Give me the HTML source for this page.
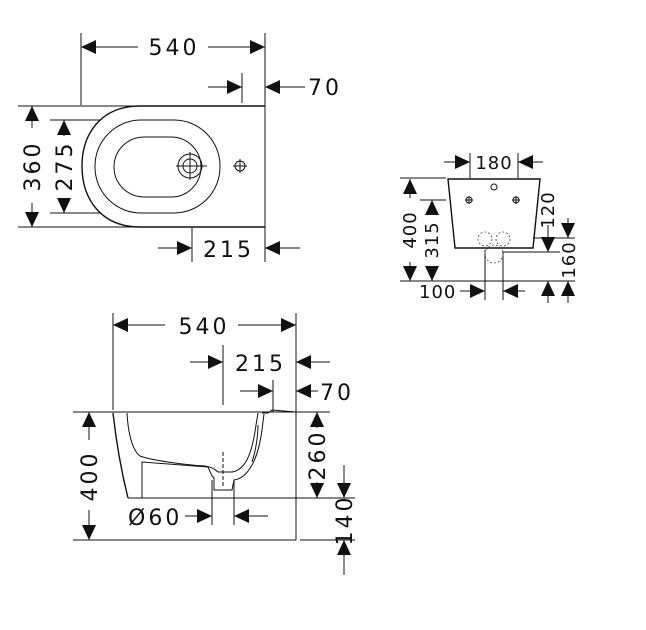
<!DOCTYPE html>
<html><head><meta charset="utf-8"><style>
html,body{margin:0;padding:0;background:#fff;}
svg{display:block;}
text{font-family:"DejaVu Sans","Liberation Sans",sans-serif;font-size:22px;fill:#111;letter-spacing:3px;}
.s{font-size:18px;letter-spacing:1px;}
.t{stroke:#111;stroke-width:1;fill:none;}
.th{stroke:#111;stroke-width:1.4;fill:none;}
.d{stroke:#444;stroke-width:0.8;fill:none;stroke-dasharray:2 2;}
</style></head><body>
<svg width="646" height="630" viewBox="0 0 646 630" xmlns="http://www.w3.org/2000/svg">
<defs>
<marker id="a" markerUnits="userSpaceOnUse" markerWidth="16" markerHeight="14" refX="15" refY="7" orient="auto">
<path d="M0,0 L15,7 L0,14 Z" fill="#111"/></marker>
</defs>

<!-- TOP VIEW -->
<g class="t">
<line x1="81" y1="33" x2="81" y2="105"/>
<line x1="265" y1="33" x2="265" y2="262"/>
<line x1="242" y1="73" x2="242" y2="103"/>
<line x1="18" y1="106" x2="265" y2="106"/>
<line x1="18" y1="227" x2="265" y2="227"/>
<line x1="50" y1="120" x2="100" y2="120"/>
<line x1="50" y1="213" x2="100" y2="213"/>
<line x1="192" y1="228" x2="192" y2="262"/>
<path class="th" d="M265,106 L140,106 C100,106 82,135 82,166 C82,200 102,227 140,227 L265,227"/>
<rect x="95" y="120" width="125" height="93" rx="46" ry="46"/>
<rect x="114" y="137" width="87" height="60" rx="30" ry="30"/>
<circle cx="190" cy="166" r="12"/><circle cx="190" cy="166" r="7"/>
<line x1="176" y1="166" x2="207" y2="166"/><line x1="190" y1="152" x2="190" y2="180"/>
<circle cx="240" cy="166" r="5"/><line x1="233" y1="166" x2="247" y2="166"/><line x1="240" y1="159" x2="240" y2="173"/>
<line x1="138" y1="47" x2="81" y2="47" marker-end="url(#a)"/>
<line x1="208" y1="47" x2="265" y2="47" marker-end="url(#a)"/>
<line x1="208" y1="87" x2="242" y2="87" marker-end="url(#a)"/>
<line x1="305" y1="87" x2="265" y2="87" marker-end="url(#a)"/>
<line x1="32" y1="128" x2="32" y2="106" marker-end="url(#a)"/>
<line x1="32" y1="203" x2="32" y2="227" marker-end="url(#a)"/>
<line x1="64" y1="136" x2="64" y2="120" marker-end="url(#a)"/>
<line x1="64" y1="199" x2="64" y2="213" marker-end="url(#a)"/>
<line x1="158" y1="248" x2="192" y2="248" marker-end="url(#a)"/>
<line x1="300" y1="248" x2="265" y2="248" marker-end="url(#a)"/>
</g>
<text x="174" y="55" text-anchor="middle">540</text>
<text x="308" y="95">70</text>
<text x="203" y="257">215</text>
<text transform="translate(40,166) rotate(-90)" text-anchor="middle">360</text>
<text transform="translate(72,166) rotate(-90)" text-anchor="middle">275</text>

<!-- SIDE VIEW -->
<g class="t">
<line x1="113" y1="313" x2="113" y2="410"/>
<line x1="296" y1="313" x2="296" y2="540"/>
<line x1="223" y1="345" x2="223" y2="405"/>
<line x1="273" y1="380" x2="273" y2="412"/>
<line x1="73" y1="412" x2="330" y2="412"/>
<line x1="128" y1="498" x2="355" y2="498"/>
<line x1="73" y1="540" x2="296" y2="540"/>
<line x1="300" y1="540" x2="355" y2="540"/>
<line x1="212" y1="480" x2="212" y2="525"/>
<line x1="234" y1="480" x2="234" y2="525"/>
<line x1="223" y1="452" x2="223" y2="488" stroke-dasharray="4 2"/>
<path class="th" d="M113,413 C116,440 121,470 128,498"/>
<path d="M127,413 C128,432 132,450 140,456 C150,460 185,465 205,466 C212,467 216,470 218,472 L232,472 C245,470 252,455 256,425 L258,413"/>
<path d="M142,498 L142,462 L208,467 L212,476 L214,478 L214,490 L232,490 L234,480 C248,478 258,460 262,430 L264,414"/>
<path d="M252,462 C256,450 258,435 258,425"/>
<path d="M262,413 L268,413 L272,410 L296,412"/>
<line x1="165" y1="325" x2="113" y2="325" marker-end="url(#a)"/>
<line x1="238" y1="325" x2="296" y2="325" marker-end="url(#a)"/>
<line x1="190" y1="362" x2="223" y2="362" marker-end="url(#a)"/>
<line x1="330" y1="362" x2="296" y2="362" marker-end="url(#a)"/>
<line x1="240" y1="391" x2="273" y2="391" marker-end="url(#a)"/>
<line x1="318" y1="391" x2="296" y2="391" marker-end="url(#a)"/>
<line x1="89" y1="440" x2="89" y2="412" marker-end="url(#a)"/>
<line x1="89" y1="510" x2="89" y2="540" marker-end="url(#a)"/>
<line x1="317" y1="428" x2="317" y2="412" marker-end="url(#a)"/>
<line x1="317" y1="482" x2="317" y2="498" marker-end="url(#a)"/>
<line x1="344" y1="465" x2="344" y2="498" marker-end="url(#a)"/>
<line x1="344" y1="575" x2="344" y2="540" marker-end="url(#a)"/>
<line x1="185" y1="516" x2="212" y2="516" marker-end="url(#a)"/>
<line x1="268" y1="516" x2="234" y2="516" marker-end="url(#a)"/>
</g>
<text x="204" y="334" text-anchor="middle">540</text>
<text x="235" y="371">215</text>
<text x="320" y="400">70</text>
<text x="128" y="525">Ø60</text>
<text transform="translate(97,476) rotate(-90)" text-anchor="middle">400</text>
<text transform="translate(325,455) rotate(-90)" text-anchor="middle">260</text>
<text transform="translate(352,520) rotate(-90)" text-anchor="middle">140</text>

<!-- REAR VIEW -->
<g class="t">
<path class="th" d="M448,179 L540,179 L533,248 L455,248 Z"/>
<line x1="470" y1="153" x2="470" y2="178"/>
<line x1="518" y1="153" x2="518" y2="178"/>
<line x1="400" y1="178" x2="446" y2="178"/>
<line x1="420" y1="200" x2="446" y2="200"/>
<line x1="400" y1="281" x2="575" y2="281"/>
<line x1="533" y1="238" x2="575" y2="238"/>
<line x1="503" y1="252" x2="560" y2="252"/>
<line x1="485" y1="250" x2="485" y2="300"/>
<line x1="503" y1="252" x2="503" y2="300"/>
<circle cx="494" cy="187" r="3"/>
<circle cx="469" cy="200" r="3"/><line x1="469" y1="196" x2="469" y2="204"/><line x1="465" y1="200" x2="473" y2="200"/>
<circle cx="516" cy="200" r="3"/><line x1="516" y1="196" x2="516" y2="204"/><line x1="512" y1="200" x2="520" y2="200"/>
<circle class="d" cx="485" cy="239" r="7"/>
<circle class="d" cx="503" cy="239" r="7"/>
<circle class="d" cx="494" cy="254" r="9"/>
<line x1="444" y1="162" x2="470" y2="162" marker-end="url(#a)"/>
<line x1="543" y1="162" x2="518" y2="162" marker-end="url(#a)"/>
<line x1="410" y1="198" x2="410" y2="179" marker-end="url(#a)"/>
<line x1="410" y1="262" x2="410" y2="281" marker-end="url(#a)"/>
<line x1="432" y1="214" x2="432" y2="200" marker-end="url(#a)"/>
<line x1="432" y1="267" x2="432" y2="281" marker-end="url(#a)"/>
<line x1="548" y1="225" x2="548" y2="252" marker-end="url(#a)"/>
<line x1="568" y1="218" x2="568" y2="238" marker-end="url(#a)"/>
<line x1="548" y1="303" x2="548" y2="281" marker-end="url(#a)"/>
<line x1="568" y1="303" x2="568" y2="281" marker-end="url(#a)"/>
<line x1="460" y1="291" x2="485" y2="291" marker-end="url(#a)"/>
<line x1="525" y1="291" x2="503" y2="291" marker-end="url(#a)"/>
</g>
<text class="s" x="494" y="169" text-anchor="middle">180</text>
<text class="s" x="419" y="298">100</text>
<text class="s" transform="translate(416,230) rotate(-90)" text-anchor="middle">400</text>
<text class="s" transform="translate(438,240) rotate(-90)" text-anchor="middle">315</text>
<text class="s" transform="translate(554,210) rotate(-90)" text-anchor="middle">120</text>
<text class="s" transform="translate(575,260) rotate(-90)" text-anchor="middle">160</text>
</svg>
</body></html>
